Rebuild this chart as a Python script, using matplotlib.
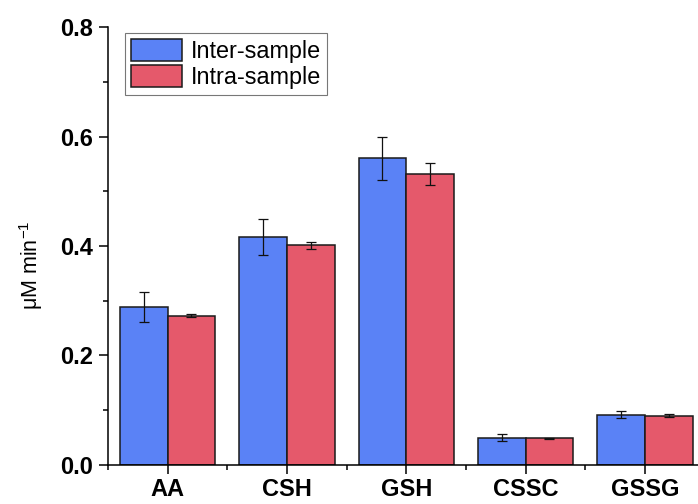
import numpy as np
import matplotlib
matplotlib.use("Agg")
import matplotlib.pyplot as plt
from matplotlib.ticker import MultipleLocator, FixedLocator

plt.rcParams['font.family'] = ['Liberation Sans', 'DejaVu Sans']

categories = ["AA", "CSH", "GSH", "CSSC", "GSSG"]
inter_mean = [0.289, 0.416, 0.560, 0.050, 0.092]
inter_err = [0.027, 0.033, 0.040, 0.006, 0.007]
intra_mean = [0.273, 0.401, 0.532, 0.049, 0.090]
intra_err = [0.002, 0.007, 0.020, 0.001, 0.003]
series_names = ["Inter-sample", "Intra-sample"]

blue = "#5A82F6"
red = "#E5596B"

fig = plt.figure(figsize=(6.98, 5.04), dpi=100)
ax = fig.add_axes([0.1547, 0.0774, 0.8546, 0.869])

x = np.arange(1, len(categories) + 1)
w = 0.4
err_kw = dict(ecolor="#111111", elinewidth=0.9, capsize=3.4, capthick=0.9)
ax.bar(x - w / 2, inter_mean, w, yerr=inter_err, color=blue, edgecolor="#1a1a1a",
       linewidth=1.1, label=series_names[0], error_kw=err_kw)
ax.bar(x + w / 2, intra_mean, w, yerr=intra_err, color=red, edgecolor="#1a1a1a",
       linewidth=1.1, label=series_names[1], error_kw=err_kw)

ax.set_xlim(0.5, 5.5)
ax.set_ylim(0, 0.8)
ax.set_xticks(x)
ax.set_xticklabels(categories, fontsize=17, fontweight="bold")
ax.xaxis.set_minor_locator(FixedLocator(np.arange(0.5, 6, 1.0)))
ax.yaxis.set_minor_locator(MultipleLocator(0.1))
ax.set_yticks([0.0, 0.2, 0.4, 0.6, 0.8])
ax.set_yticklabels(["0.0", "0.2", "0.4", "0.6", "0.8"], fontsize=17, fontweight="bold")

for side in ["top", "right"]:
    ax.spines[side].set_visible(False)
for side in ["left", "bottom"]:
    ax.spines[side].set_linewidth(1.1)
ax.tick_params(which="major", direction="out", length=6.5, width=1.1)
ax.tick_params(which="minor", direction="out", length=3.5, width=1.1)
ax.tick_params(axis="x", which="major", pad=3)
ax.tick_params(axis="y", which="major", pad=4)

ax.set_ylabel("\u03bcM min$^{\\mathregular{-1}}$", fontsize=15.5)
ax.yaxis.set_label_coords(-0.105, 0.457)

leg = ax.legend(loc="upper left", bbox_to_anchor=(0.028, 0.986), borderaxespad=0,
                fontsize=16.8, handlelength=2.2, handleheight=1.1, handletextpad=0.4,
                labelspacing=0.08, borderpad=0.25, fancybox=False, framealpha=1)
leg.get_frame().set_edgecolor("#777777")
leg.get_frame().set_linewidth(0.8)

fig.savefig("out.png", dpi=100)
